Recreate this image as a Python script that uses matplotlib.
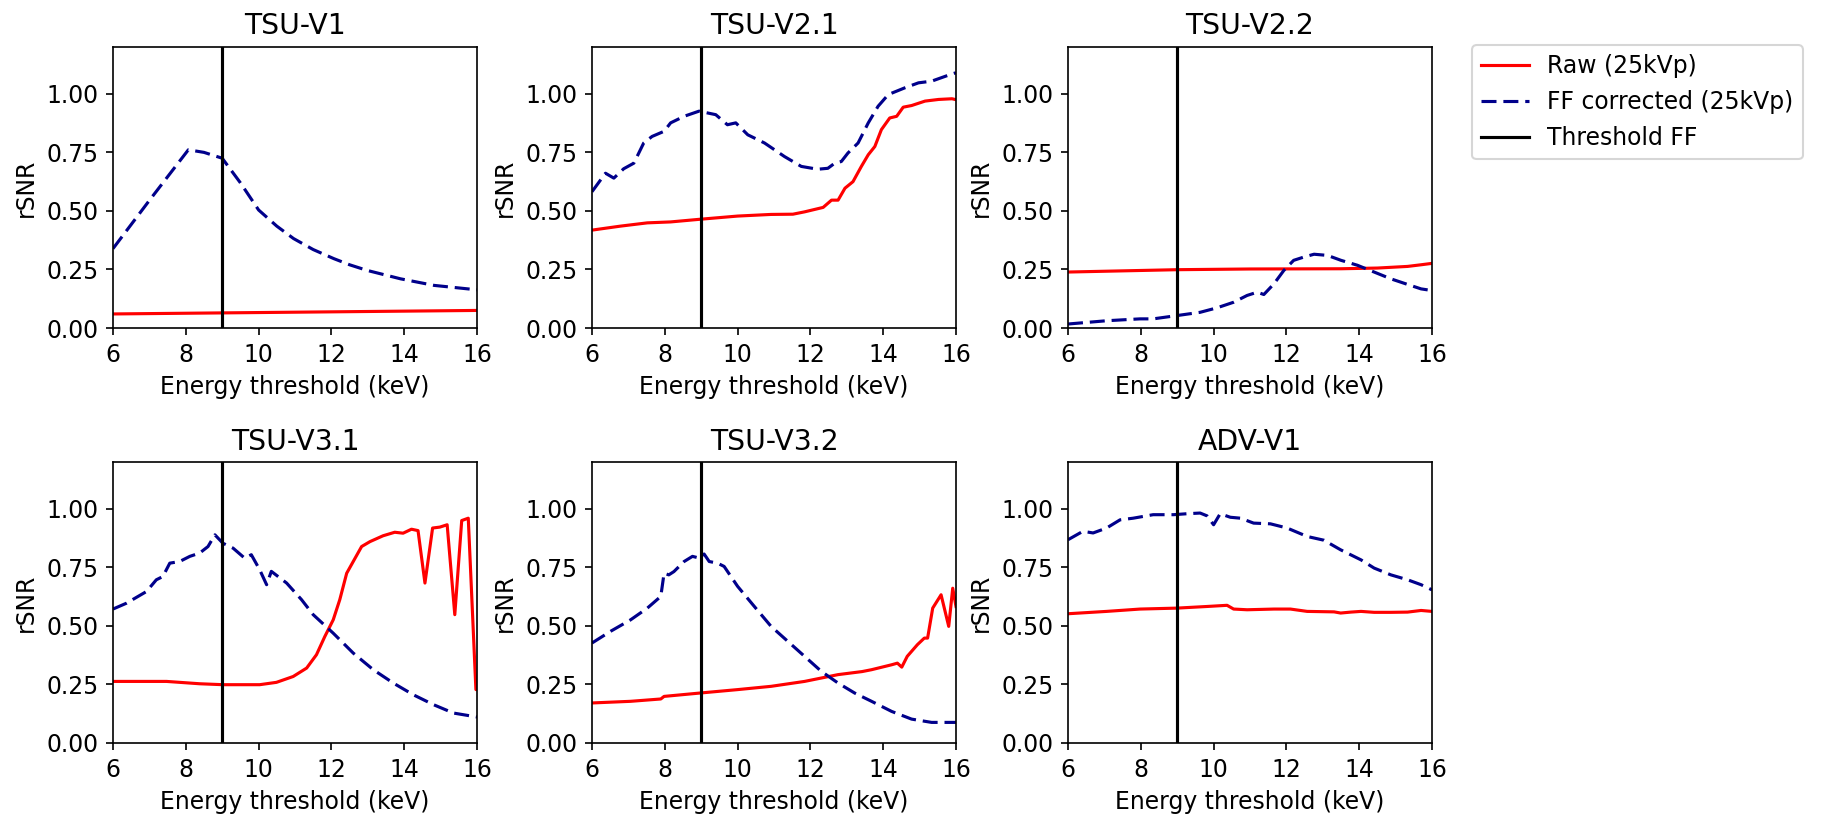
import matplotlib
matplotlib.use("Agg")
import matplotlib.pyplot as plt

plt.rcParams['font.family'] = ['DejaVu Sans']
plt.rcParams['font.size'] = 11.3
plt.rcParams['lines.dashed_pattern'] = [4.8, 2.2]

titles = ["TSU-V1", "TSU-V2.1", "TSU-V2.2", "TSU-V3.1", "TSU-V3.2", "ADV-V1"]
threshold_kev = 9.0
legend_labels = ["Raw (25kVp)", "FF corrected (25kVp)", "Threshold FF"]

# ---- TSU-V1 ----
v1_raw_x = [6, 8, 10, 12, 14, 16]
v1_raw_y = [0.060, 0.063, 0.066, 0.069, 0.072, 0.075]
v1_ff_x = [6, 7, 8.07, 8.5, 9.0, 9.5, 10.0, 10.5, 10.96, 11.5, 12.07, 12.5, 12.98, 13.9, 14.82, 16]
v1_ff_y = [0.339, 0.545, 0.761, 0.750, 0.725, 0.620, 0.504, 0.435, 0.382, 0.335, 0.296, 0.270, 0.246, 0.210, 0.182, 0.163]

# ---- TSU-V2.1 ----
v21_raw_x = [6, 6.78, 7.52, 8.16, 8.94, 10.0, 10.92, 11.52, 11.84, 12.35, 12.58, 12.76, 12.95, 13.17, 13.4,
             13.59, 13.77, 13.95, 14.18, 14.37, 14.55, 14.78, 15.15, 15.52, 15.89, 16]
v21_raw_y = [0.418, 0.435, 0.449, 0.453, 0.464, 0.478, 0.485, 0.486, 0.496, 0.515, 0.546, 0.546, 0.597, 0.625, 0.690,
             0.740, 0.775, 0.847, 0.897, 0.904, 0.943, 0.950, 0.969, 0.976, 0.979, 0.975]
v21_ff_x = [6, 6.37, 6.6, 6.87, 7.15, 7.42, 7.65, 7.98, 8.16, 8.53, 8.94, 9.4, 9.72, 9.95, 10.28, 10.74, 11.29,
            11.75, 12.2, 12.48, 12.67, 12.85, 13.03, 13.31, 13.59, 13.86, 14.14, 14.6, 14.97, 15.33, 15.6, 15.89, 16]
v21_ff_y = [0.582, 0.661, 0.640, 0.680, 0.704, 0.790, 0.818, 0.840, 0.876, 0.904, 0.926, 0.911, 0.868, 0.876, 0.825,
            0.790, 0.732, 0.690, 0.678, 0.682, 0.704, 0.711, 0.747, 0.790, 0.876, 0.947, 0.997, 1.026, 1.047, 1.054,
            1.069, 1.085, 1.090]

# ---- TSU-V2.2 ----
v22_raw_x = [6, 9, 11, 13.5, 14.5, 15.33, 15.7, 16]
v22_raw_y = [0.239, 0.249, 0.252, 0.253, 0.256, 0.263, 0.270, 0.276]
v22_ff_x = [6, 7.06, 7.98, 8.34, 8.99, 9.63, 10.09, 10.55, 10.92, 11.2, 11.38, 11.66, 11.93, 12.2, 12.48, 12.76,
            13.13, 13.5, 13.95, 14.41, 14.87, 15.33, 15.7, 16]
v22_ff_y = [0.017, 0.031, 0.039, 0.039, 0.053, 0.067, 0.086, 0.110, 0.139, 0.153, 0.143, 0.189, 0.246, 0.289, 0.303,
            0.315, 0.310, 0.289, 0.268, 0.239, 0.210, 0.186, 0.167, 0.160]

# ---- TSU-V3.1 ----
v31_raw_x = [6, 7.47, 8.38, 9.02, 10.03, 10.49, 10.95, 11.32, 11.59, 11.82, 12.05, 12.23, 12.42, 12.65, 12.83,
             13.06, 13.42, 13.74, 13.97, 14.2, 14.38, 14.57, 14.78, 14.98, 15.18, 15.39, 15.58, 15.76, 15.97, 16]
v31_raw_y = [0.263, 0.263, 0.253, 0.249, 0.249, 0.259, 0.284, 0.320, 0.377, 0.455, 0.526, 0.612, 0.725, 0.789, 0.839,
             0.860, 0.885, 0.900, 0.896, 0.913, 0.907, 0.683, 0.918, 0.922, 0.932, 0.548, 0.950, 0.960, 0.228, 0.228]
v31_ff_x = [6, 6.37, 6.92, 7.19, 7.37, 7.56, 7.83, 8.11, 8.38, 8.61, 8.8, 9.02, 9.3, 9.62, 9.8, 10.03, 10.22,
            10.35, 10.77, 11.18, 11.5, 12.05, 12.6, 13.15, 13.7, 14.25, 14.8, 15.35, 16]
v31_ff_y = [0.572, 0.597, 0.647, 0.697, 0.711, 0.768, 0.775, 0.797, 0.811, 0.839, 0.889, 0.853, 0.832, 0.789, 0.804,
            0.740, 0.676, 0.733, 0.683, 0.612, 0.548, 0.469, 0.384, 0.313, 0.256, 0.206, 0.164, 0.128, 0.111]

# ---- TSU-V3.2 ----
v32_raw_x = [6, 7.06, 7.89, 7.98, 8.94, 10.0, 10.92, 11.84, 12.76, 13.42, 13.68, 14.23, 14.39, 14.51, 14.66,
             14.94, 15.13, 15.22, 15.36, 15.59, 15.8, 15.91, 16]
v32_raw_y = [0.171, 0.178, 0.188, 0.199, 0.213, 0.228, 0.242, 0.263, 0.292, 0.305, 0.313, 0.334, 0.341, 0.324, 0.370,
             0.420, 0.448, 0.448, 0.576, 0.633, 0.498, 0.661, 0.583]
v32_ff_x = [6, 6.51, 7.06, 7.52, 7.89, 7.98, 8.11, 8.25, 8.53, 8.76, 8.94, 9.08, 9.22, 9.45, 9.63, 10.0, 10.46,
            10.92, 11.38, 11.84, 12.3, 12.76, 13.22, 13.68, 14.23, 14.78, 15.33, 15.89, 16]
v32_ff_y = [0.427, 0.477, 0.526, 0.576, 0.626, 0.725, 0.718, 0.732, 0.775, 0.797, 0.790, 0.807, 0.775, 0.768, 0.754,
            0.669, 0.583, 0.498, 0.434, 0.370, 0.306, 0.256, 0.213, 0.178, 0.135, 0.102, 0.088, 0.088, 0.088]

# ---- ADV-V1 ----
adv_raw_x = [6, 7.06, 7.98, 8.99, 9.82, 10.37, 10.55, 10.92, 11.66, 12.11, 12.57, 13.31, 13.49, 13.77, 14.05,
             14.41, 14.87, 15.33, 15.7, 16]
adv_raw_y = [0.552, 0.562, 0.572, 0.576, 0.583, 0.588, 0.572, 0.569, 0.572, 0.572, 0.562, 0.560, 0.555, 0.559,
             0.562, 0.558, 0.558, 0.559, 0.566, 0.562]
adv_ff_x = [6, 6.41, 6.69, 7.06, 7.43, 7.79, 8.34, 8.9, 9.26, 9.63, 9.82, 10.0, 10.18, 10.46, 10.74, 11.1, 11.56,
            12.02, 12.57, 13.03, 13.49, 14.05, 14.41, 14.87, 15.33, 15.7, 16]
adv_ff_y = [0.868, 0.904, 0.897, 0.918, 0.953, 0.960, 0.975, 0.975, 0.979, 0.982, 0.970, 0.932, 0.979, 0.964, 0.960,
            0.939, 0.936, 0.918, 0.882, 0.866, 0.825, 0.782, 0.747, 0.718, 0.697, 0.676, 0.654]

raw_x = [v1_raw_x, v21_raw_x, v22_raw_x, v31_raw_x, v32_raw_x, adv_raw_x]
raw_y = [v1_raw_y, v21_raw_y, v22_raw_y, v31_raw_y, v32_raw_y, adv_raw_y]
ff_x = [v1_ff_x, v21_ff_x, v22_ff_x, v31_ff_x, v32_ff_x, adv_ff_x]
ff_y = [v1_ff_y, v21_ff_y, v22_ff_y, v31_ff_y, v32_ff_y, adv_ff_y]

W, H = 1837, 820
fig = plt.figure(figsize=(W / 150, H / 150), dpi=150)

col_left = [113, 592, 1068]
row_top = [47, 462]
ax_w, ax_h = 364, 281

handles = None
for i in range(6):
    r, c = divmod(i, 3)
    left = col_left[c] / W
    bottom = 1 - (row_top[r] + ax_h) / H
    ax = fig.add_axes([left, bottom, ax_w / W, ax_h / H])
    l1, = ax.plot(raw_x[i], raw_y[i], color='red', lw=1.5, label=legend_labels[0])
    l2, = ax.plot(ff_x[i], ff_y[i], color='darkblue', lw=1.5, ls='--', label=legend_labels[1])
    l3 = ax.axvline(threshold_kev, color='black', lw=1.5, label=legend_labels[2])
    ax.set_xlim(6, 16)
    ax.set_ylim(0, 1.2)
    ax.set_xticks([6, 8, 10, 12, 14, 16])
    ax.set_yticks([0, 0.25, 0.5, 0.75, 1.0])
    ax.set_yticklabels(["0.00", "0.25", "0.50", "0.75", "1.00"])
    ax.set_title(titles[i])
    ax.set_xlabel("Energy threshold (keV)")
    ax.set_ylabel("rSNR")
    handles = [l1, l2, l3]

fig.legend(handles, legend_labels, loc='upper left', bbox_to_anchor=(1472 / W, 1 - 45 / H),
           borderaxespad=0)

fig.savefig("out.png", dpi=150)
